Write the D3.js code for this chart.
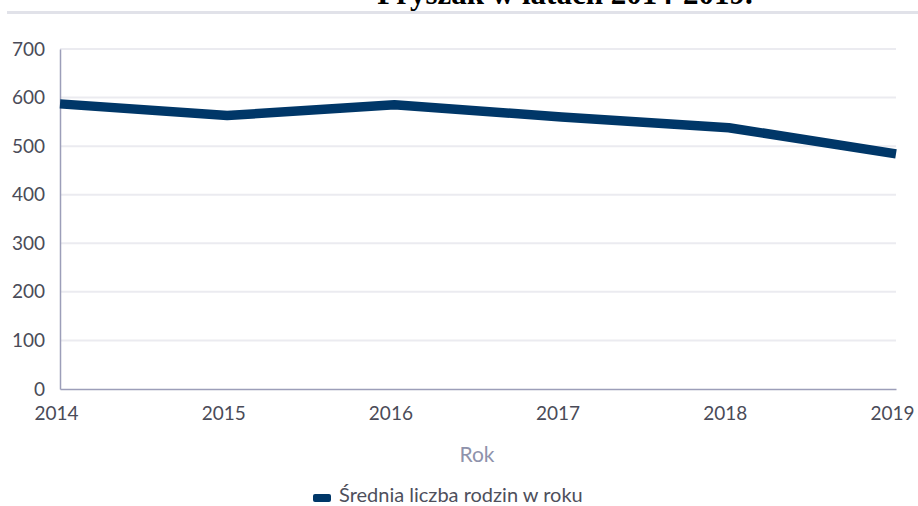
<!DOCTYPE html>
<html lang="pl">
<head>
<meta charset="UTF-8">
<title>Średnia liczba rodzin w roku</title>
<script src="https://d3js.org/d3.v7.min.js"></script>
<style>
  html, body { margin: 0; padding: 0; background: #fff; }
  svg { display: block; }
  .tick text { font-family: Lato, "Open Sans", sans-serif; font-size: 19px; fill: #4a4b58; }
</style>
</head>
<body>
<svg id="chart" width="918" height="506"></svg>
<script>
  const years = [2014, 2015, 2016, 2017, 2018, 2019];
  const families = [587, 563, 585, 560, 538, 484];
  const yTicks = [0, 100, 200, 300, 400, 500, 600, 700];
  const titleText = "Pryszak w latach 2014-2019.";
  const legendLabel = "Średnia liczba rodzin w roku";
  const xTitle = "Rok";

  const width = 918, height = 506;
  const margin = { top: 49, right: 22, bottom: 117, left: 60 };
  const svg = d3.select("#chart");

  // scraps of the page header
  svg.append("text")
    .attr("x", 565).attr("y", 4)
    .attr("text-anchor", "middle")
    .style("font-family", "'Liberation Serif', 'Times New Roman', serif")
    .style("font-weight", "bold")
    .style("font-size", "31px")
    .text(titleText);
  svg.append("rect")
    .attr("x", 7).attr("y", 11).attr("width", 911).attr("height", 3)
    .attr("fill", "#e1e2e9");

  const x = d3.scaleLinear()
    .domain(d3.extent(years))
    .range([margin.left, width - margin.right]);
  const y = d3.scaleLinear()
    .domain([0, 700])
    .range([height - margin.bottom, margin.top]);

  // gridlines
  svg.append("g")
    .selectAll("line")
    .data(yTicks.filter(d => d > 0))
    .join("line")
    .attr("x1", x.range()[0]).attr("x2", x.range()[1])
    .attr("y1", d => y(d)).attr("y2", d => y(d))
    .attr("stroke", "#ebebf0")
    .attr("stroke-width", 2);

  const yAxis = svg.append("g")
    .attr("transform", `translate(${margin.left},0)`)
    .call(d3.axisLeft(y).tickValues(yTicks).tickSize(0).tickPadding(15));
  yAxis.select(".domain").attr("stroke", "#9c9eb9").attr("stroke-width", 1.5);

  const xAxis = svg.append("g")
    .attr("transform", `translate(0,${y(0)})`)
    .call(d3.axisBottom(x).tickValues(years).tickFormat(d3.format("d")).tickSize(0).tickPadding(18));
  xAxis.select(".domain").attr("stroke", "#9c9eb9").attr("stroke-width", 1.5);
  xAxis.selectAll(".tick text").attr("dx", -4);

  // the series
  const line = d3.line()
    .x((d, i) => x(years[i]))
    .y(d => y(d));
  svg.append("path")
    .datum(families)
    .attr("d", line)
    .attr("fill", "none")
    .attr("stroke", "#003768")
    .attr("stroke-width", 9.5)
    .attr("stroke-linejoin", "round");

  svg.append("text")
    .attr("x", 477).attr("y", 462)
    .attr("text-anchor", "middle")
    .style("font-family", "Lato, sans-serif")
    .style("font-size", "21px")
    .attr("fill", "#8e92ab")
    .text(xTitle);

  // legend
  svg.append("rect")
    .attr("x", 313).attr("y", 494).attr("width", 18).attr("height", 8).attr("rx", 2)
    .attr("fill", "#003768");
  svg.append("text")
    .attr("x", 339).attr("y", 502)
    .style("font-family", "Lato, sans-serif")
    .style("font-size", "20px")
    .attr("fill", "#4e4f5c")
    .text(legendLabel);
</script>
</body>
</html>
